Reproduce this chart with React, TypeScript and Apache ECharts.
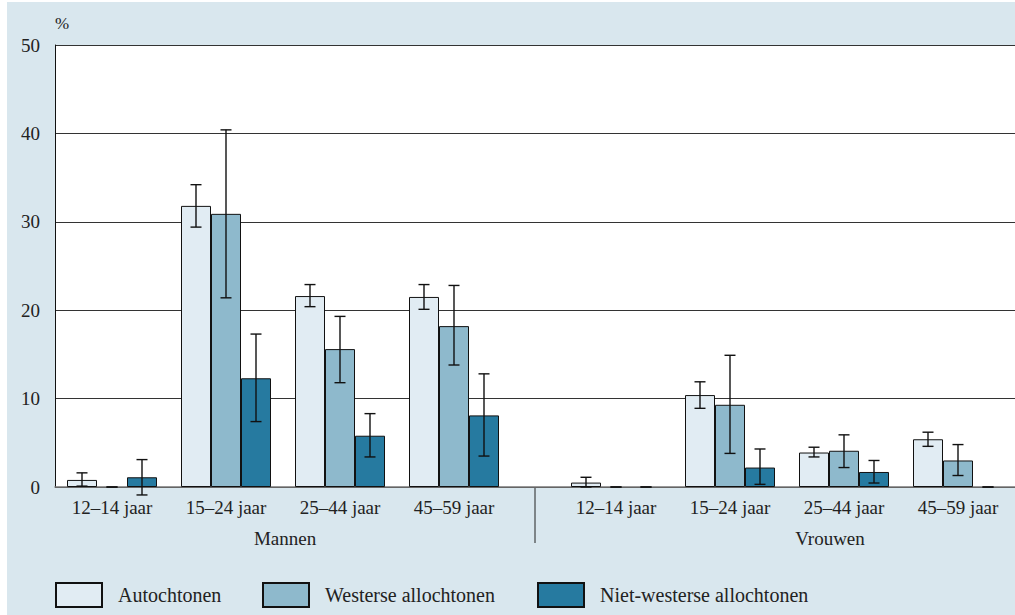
import React, { useEffect, useRef } from "react";
import * as echarts from "echarts";

const categories = ["12–14 jaar", "15–24 jaar", "25–44 jaar", "45–59 jaar"];
const seriesNames = ["Autochtonen", "Westerse allochtonen", "Niet-westerse allochtonen"];
const groupNames = ["Mannen", "Vrouwen"];
const yTicks = [0, 10, 20, 30, 40, 50];

// Mannen
const mannenAut = [0.8, 31.8, 21.6, 21.5];
const mannenAutLow = [0.1, 29.4, 20.4, 20.1];
const mannenAutHigh = [1.6, 34.2, 22.9, 22.9];
const mannenWest = [0, 30.9, 15.6, 18.2];
const mannenWestLow = [0, 21.4, 11.8, 13.8];
const mannenWestHigh = [0, 40.4, 19.3, 22.8];
const mannenNW = [1.1, 12.3, 5.8, 8.1];
const mannenNWLow = [-0.9, 7.4, 3.4, 3.5];
const mannenNWHigh = [3.1, 17.3, 8.3, 12.8];

// Vrouwen
const vrouwenAut = [0.5, 10.4, 3.9, 5.4];
const vrouwenAutLow = [0, 8.9, 3.4, 4.6];
const vrouwenAutHigh = [1.1, 11.9, 4.5, 6.2];
const vrouwenWest = [0, 9.3, 4.1, 3.0];
const vrouwenWestLow = [0, 3.8, 2.2, 1.3];
const vrouwenWestHigh = [0, 14.9, 5.9, 4.8];
const vrouwenNW = [0, 2.2, 1.7, 0];
const vrouwenNWLow = [0, 0.3, 0.45, 0];
const vrouwenNWHigh = [0, 4.3, 3.0, 0];

const COLORS = ["#e1ecf3", "#8eb9cc", "#267aa0"];
const BG = "#d9e7ee";
const FONT = "Liberation Serif";
const TEXT = "#222";
const BAR_W = 30;

export default function App() {
  const ref = useRef<HTMLDivElement>(null);
  useEffect(() => {
    document.body.style.margin = "0";
    if (!ref.current) return;
    const chart = echarts.init(ref.current, undefined, { renderer: "svg" });

    const groups = [
      { values: [mannenAut, mannenWest, mannenNW], lows: [mannenAutLow, mannenWestLow, mannenNWLow], highs: [mannenAutHigh, mannenWestHigh, mannenNWHigh] },
      { values: [vrouwenAut, vrouwenWest, vrouwenNW], lows: [vrouwenAutLow, vrouwenWestLow, vrouwenNWLow], highs: [vrouwenAutHigh, vrouwenWestHigh, vrouwenNWHigh] },
    ];

    const series: any[] = [];
    groups.forEach((g, gi) => {
      g.values.forEach((vals, si) => {
        series.push({
          type: "bar",
          name: seriesNames[si],
          xAxisIndex: gi + 1,
          yAxisIndex: gi + 1,
          barWidth: BAR_W,
          barGap: "0%",
          itemStyle: { color: COLORS[si], borderColor: "#111", borderWidth: 1 },
          data: vals.map((v) => (v === 0 ? { value: 0, itemStyle: { borderWidth: 0 } } : v)),
        });
      });
      const errData: number[][] = [];
      g.values.forEach((vals, si) => {
        vals.forEach((_, ci) => {
          errData.push([ci, g.lows[si][ci], g.highs[si][ci], si]);
        });
      });
      series.push({
        type: "custom",
        name: "err" + gi,
        xAxisIndex: gi + 1,
        yAxisIndex: gi + 1,
        z: 5,
        encode: { x: 0, y: [1, 2] },
        data: errData,
        renderItem: (params: any, api: any) => {
          const ci = api.value(0);
          const lo = api.value(1);
          const hi = api.value(2);
          const k = api.value(3);
          const base = api.coord([ci, 0]);
          const x = base[0] + (k - 1) * BAR_W;
          const yl = api.coord([ci, lo])[1];
          const yh = api.coord([ci, hi])[1];
          const cap = 5.5;
          const st = { stroke: "#111", lineWidth: 1.4 };
          return {
            type: "group",
            children: [
              { type: "line", shape: { x1: x, y1: yl, x2: x, y2: yh }, style: st },
              { type: "line", shape: { x1: x - cap, y1: yl, x2: x + cap, y2: yl }, style: st },
              { type: "line", shape: { x1: x - cap, y1: yh, x2: x + cap, y2: yh }, style: st },
            ],
          };
        },
      });
    });

    const gridTop = 43;
    const gridBottom = 128;
    const catAxis = (gi: number) => ({
      type: "category",
      gridIndex: gi,
      data: categories,
      axisLine: { show: false },
      axisTick: { show: false },
      axisLabel: { fontFamily: FONT, fontSize: 19, color: TEXT, margin: 11 },
    });
    const hiddenY = (gi: number) => ({
      type: "value",
      gridIndex: gi,
      min: 0,
      max: 50,
      interval: 10,
      show: false,
      splitLine: { show: false },
    });

    const legendItem = (i: number, left: number) => ({
      data: [seriesNames[i]],
      left,
      top: 580,
      padding: 0,
      itemWidth: 46,
      itemHeight: 24,
      icon: "rect",
      selectedMode: false,
      textStyle: { fontFamily: FONT, fontSize: 20, color: TEXT, padding: [0, 0, 0, 11] },
    });

    chart.setOption({
      animation: false,
      backgroundColor: BG,
      textStyle: { fontFamily: FONT },
      grid: [
        { left: 48, right: 0, top: gridTop, bottom: gridBottom, show: true, backgroundColor: "#fff", borderWidth: 0 },
        { left: 48, width: 456, top: gridTop, bottom: gridBottom },
        { left: 552, width: 456, top: gridTop, bottom: gridBottom },
      ],
      xAxis: [
        {
          type: "value",
          gridIndex: 0,
          min: 0,
          max: 1,
          axisLine: { show: true, lineStyle: { color: "#777", width: 1.5 } },
          axisTick: { show: false },
          axisLabel: { show: false },
          splitLine: { show: false },
        },
        catAxis(1),
        catAxis(2),
      ],
      yAxis: [
        {
          type: "value",
          gridIndex: 0,
          min: yTicks[0],
          max: yTicks[yTicks.length - 1],
          interval: 10,
          name: "%",
          nameLocation: "end",
          nameGap: 13,
          nameTextStyle: { fontFamily: FONT, fontSize: 17, color: TEXT, align: "left" },
          axisLine: { show: true, lineStyle: { color: "#111", width: 1 } },
          axisTick: { show: false },
          axisLabel: { fontFamily: FONT, fontSize: 19, color: TEXT, margin: 15 },
          splitLine: { show: true, lineStyle: { color: "#333", width: 1 } },
        },
        hiddenY(1),
        hiddenY(2),
      ],
      legend: [legendItem(0, 48), legendItem(1, 255), legendItem(2, 530)],
      graphic: [
        {
          type: "line",
          shape: { x1: 528, y1: 485, x2: 528, y2: 541 },
          style: { stroke: "#222", lineWidth: 1 },
        },
        {
          type: "text",
          x: 278,
          y: 536,
          style: { text: groupNames[0], font: `19px "${FONT}"`, fill: TEXT, textAlign: "center", textVerticalAlign: "middle" },
        },
        {
          type: "text",
          x: 823,
          y: 536,
          style: { text: groupNames[1], font: `19px "${FONT}"`, fill: TEXT, textAlign: "center", textVerticalAlign: "middle" },
        },
      ],
      series,
    });
    return () => chart.dispose();
  }, []);

  return (
    <div style={{ position: "relative", width: 1015, height: 615, background: "#fff" }}>
      <div ref={ref} style={{ position: "absolute", left: 7, top: 2, width: 1008, height: 613 }} />
    </div>
  );
}
